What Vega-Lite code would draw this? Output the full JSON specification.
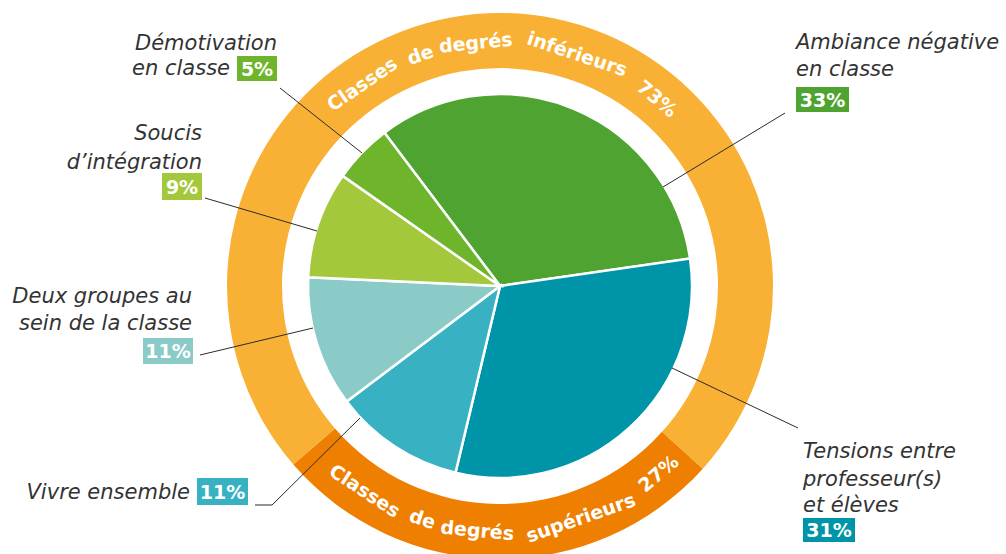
{
  "$schema": "https://vega.github.io/schema/vega-lite/v6.json",
  "width": 1000,
  "height": 540,
  "autosize": "none",
  "padding": {"left": 0, "top": 16, "right": 6, "bottom": 0},
  "background": "white",
  "config": {"view": {"stroke": null}},
  "datasets": {
    "slices": [
      {"cat": "Ambiance négative en classe", "pct": 33, "k": 1},
      {"cat": "Tensions entre professeur(s) et élèves", "pct": 31, "k": 2},
      {"cat": "Vivre ensemble", "pct": 11, "k": 3},
      {"cat": "Deux groupes au sein de la classe", "pct": 11, "k": 4},
      {"cat": "Soucis d'intégration", "pct": 9, "k": 5},
      {"cat": "Démotivation en classe", "pct": 5, "k": 6}
    ],
    "ring": [
      {"grp": "Classes de degrés supérieurs", "pct": 27, "k": 1},
      {"grp": "Classes de degrés inférieurs", "pct": 73, "k": 2}
    ],
    "ringwords": [
      {"side": "top", "word": "Classes", "deg": -34.3},
      {"side": "top", "word": "de", "deg": -19.0},
      {"side": "top", "word": "degrés", "deg": -5.7},
      {"side": "top", "word": "inférieurs", "deg": 18.4},
      {"side": "top", "word": "73%", "deg": 40.0},
      {"side": "bottom", "word": "Classes", "deg": 213.4},
      {"side": "bottom", "word": "de", "deg": 198.4},
      {"side": "bottom", "word": "degrés", "deg": 185.3},
      {"side": "bottom", "word": "supérieurs", "deg": 160.8},
      {"side": "bottom", "word": "27%", "deg": 139.8}
    ],
    "leaders": [
      {"cat": "Démotivation en classe", "seq": 1, "x": -220, "y": 198},
      {"cat": "Démotivation en classe", "seq": 2, "x": -138, "y": 133},
      {"cat": "Soucis d'intégration", "seq": 1, "x": -295, "y": 88},
      {"cat": "Soucis d'intégration", "seq": 2, "x": -183, "y": 55},
      {"cat": "Deux groupes au sein de la classe", "seq": 1, "x": -300, "y": -69},
      {"cat": "Deux groupes au sein de la classe", "seq": 2, "x": -187, "y": -42},
      {"cat": "Vivre ensemble", "seq": 1, "x": -245, "y": -219},
      {"cat": "Vivre ensemble", "seq": 2, "x": -228, "y": -219},
      {"cat": "Vivre ensemble", "seq": 3, "x": -140, "y": -132},
      {"cat": "Ambiance négative en classe", "seq": 1, "x": 285, "y": 173},
      {"cat": "Ambiance négative en classe", "seq": 2, "x": 163, "y": 99},
      {"cat": "Tensions entre professeur(s) et élèves", "seq": 1, "x": 298, "y": -142},
      {"cat": "Tensions entre professeur(s) et élèves", "seq": 2, "x": 172, "y": -82}
    ],
    "lines": [
      {"side": "right", "line": "Démotivation", "x": -223, "y": 236},
      {"side": "right", "line": "en classe", "x": -270, "y": 211},
      {"side": "right", "line": "Soucis", "x": -298, "y": 146},
      {"side": "right", "line": "d’intégration", "x": -298, "y": 117},
      {"side": "right", "line": "Deux groupes au", "x": -308, "y": -17},
      {"side": "right", "line": "sein de la classe", "x": -308, "y": -44},
      {"side": "right", "line": "Vivre ensemble", "x": -310, "y": -213},
      {"side": "left", "line": "Ambiance négative", "x": 296, "y": 237},
      {"side": "left", "line": "en classe", "x": 296, "y": 210},
      {"side": "left", "line": "Tensions entre", "x": 303, "y": -172},
      {"side": "left", "line": "professeur(s)", "x": 303, "y": -200},
      {"side": "left", "line": "et élèves", "x": 303, "y": -226}
    ],
    "boxes": [
      {"cat": "Démotivation en classe", "lab": "5%", "x1": -263, "x2": -223, "y1": 230, "y2": 205, "cx": -243, "cy": 217.5},
      {"cat": "Soucis d'intégration", "lab": "9%", "x1": -338, "x2": -298, "y1": 113, "y2": 86, "cx": -318, "cy": 99.5},
      {"cat": "Deux groupes au sein de la classe", "lab": "11%", "x1": -357, "x2": -307, "y1": -52, "y2": -78, "cx": -332, "cy": -65},
      {"cat": "Vivre ensemble", "lab": "11%", "x1": -303, "x2": -252, "y1": -192, "y2": -219, "cx": -277.5, "cy": -205.5},
      {"cat": "Ambiance négative en classe", "lab": "33%", "x1": 296, "x2": 349, "y1": 199, "y2": 174, "cx": 322.5, "cy": 186.5},
      {"cat": "Tensions entre professeur(s) et élèves", "lab": "31%", "x1": 303, "x2": 355, "y1": -232, "y2": -256, "cx": 329, "cy": -244}
    ]
  },
  "layer": [
    {
      "data": {"name": "ring"},
      "mark": {"type": "arc", "outerRadius": 273, "innerRadius": 218},
      "encoding": {
        "theta": {"field": "pct", "type": "quantitative", "stack": true, "scale": {"domain": [0, 100], "range": [2.3038, 8.587]}},
        "color": {"field": "grp", "type": "nominal", "legend": null, "scale": {"domain": ["Classes de degrés supérieurs", "Classes de degrés inférieurs"], "range": ["#ef7f00", "#f8b134"]}},
        "order": {"field": "k", "type": "quantitative"}
      }
    },
    {
      "data": {"name": "slices"},
      "mark": {"type": "arc", "outerRadius": 192, "stroke": "white", "strokeWidth": 2.5},
      "encoding": {
        "theta": {"field": "pct", "type": "quantitative", "stack": true, "scale": {"domain": [0, 100], "range": [-0.6458, 5.6374]}},
        "color": {"field": "cat", "type": "nominal", "legend": null, "scale": {"domain": ["Ambiance négative en classe", "Tensions entre professeur(s) et élèves", "Vivre ensemble", "Deux groupes au sein de la classe", "Soucis d'intégration", "Démotivation en classe"], "range": ["#4ea331", "#0094a8", "#38b2c3", "#8acbc8", "#a3c83b", "#6fb52c"]}},
        "order": {"field": "k", "type": "quantitative"}
      }
    },
    {
      "data": {"name": "ringwords"},
      "transform": [{"filter": {"field": "side", "equal": "top"}}],
      "mark": {"type": "text", "radius": 244, "font": "DejaVu Sans", "fontWeight": "bold", "fontSize": 19, "fill": "white", "align": "center", "baseline": "middle"},
      "encoding": {
        "text": {"field": "word"},
        "theta": {"field": "deg", "type": "quantitative", "stack": null, "scale": {"domain": [0, 360], "range": [0, 6.283185], "nice": false, "zero": false}},
        "angle": {"field": "deg", "type": "quantitative", "scale": {"domain": [0, 360], "range": [0, 360], "nice": false, "zero": false}}
      }
    },
    {
      "data": {"name": "ringwords"},
      "transform": [{"filter": {"field": "side", "equal": "bottom"}}],
      "mark": {"type": "text", "radius": 246, "font": "DejaVu Sans", "fontWeight": "bold", "fontSize": 19, "fill": "white", "align": "center", "baseline": "middle"},
      "encoding": {
        "text": {"field": "word"},
        "theta": {"field": "deg", "type": "quantitative", "stack": null, "scale": {"domain": [0, 360], "range": [0, 6.283185], "nice": false, "zero": false}},
        "angle": {"field": "deg", "type": "quantitative", "scale": {"domain": [0, 360], "range": [-180, 180], "nice": false, "zero": false}}
      }
    },
    {
      "data": {"name": "leaders"},
      "mark": {"type": "line", "stroke": "#2b2b2b", "strokeWidth": 1},
      "encoding": {
        "x": {"field": "x", "type": "quantitative", "axis": null, "scale": {"domain": [-500, 500], "nice": false, "zero": false}},
        "y": {"field": "y", "type": "quantitative", "axis": null, "scale": {"domain": [-270, 270], "nice": false, "zero": false}},
        "detail": {"field": "cat"},
        "order": {"field": "seq", "type": "quantitative"}
      }
    },
    {
      "data": {"name": "boxes"},
      "mark": {"type": "rect"},
      "encoding": {
        "x": {"field": "x1", "type": "quantitative", "axis": null, "scale": {"domain": [-500, 500], "nice": false, "zero": false}},
        "x2": {"field": "x2"},
        "y": {"field": "y1", "type": "quantitative", "axis": null, "scale": {"domain": [-270, 270], "nice": false, "zero": false}},
        "y2": {"field": "y2"},
        "color": {"field": "cat", "type": "nominal", "legend": null, "scale": {"domain": ["Ambiance négative en classe", "Tensions entre professeur(s) et élèves", "Vivre ensemble", "Deux groupes au sein de la classe", "Soucis d'intégration", "Démotivation en classe"], "range": ["#4ea331", "#0094a8", "#38b2c3", "#8acbc8", "#a3c83b", "#6fb52c"]}}
      }
    },
    {
      "data": {"name": "boxes"},
      "mark": {"type": "text", "font": "DejaVu Sans", "fontWeight": "bold", "fontSize": 19, "fill": "white", "align": "center", "baseline": "middle", "dy": 1},
      "encoding": {
        "x": {"field": "cx", "type": "quantitative", "axis": null, "scale": {"domain": [-500, 500], "nice": false, "zero": false}},
        "y": {"field": "cy", "type": "quantitative", "axis": null, "scale": {"domain": [-270, 270], "nice": false, "zero": false}},
        "text": {"field": "lab"}
      }
    },
    {
      "data": {"name": "lines"},
      "transform": [{"filter": {"field": "side", "equal": "right"}}],
      "mark": {"type": "text", "font": "DejaVu Sans", "fontStyle": "italic", "fontWeight": 200, "fontSize": 21, "fill": "#333333", "align": "right", "baseline": "alphabetic"},
      "encoding": {
        "x": {"field": "x", "type": "quantitative", "axis": null, "scale": {"domain": [-500, 500], "nice": false, "zero": false}},
        "y": {"field": "y", "type": "quantitative", "axis": null, "scale": {"domain": [-270, 270], "nice": false, "zero": false}},
        "text": {"field": "line"}
      }
    },
    {
      "data": {"name": "lines"},
      "transform": [{"filter": {"field": "side", "equal": "left"}}],
      "mark": {"type": "text", "font": "DejaVu Sans", "fontStyle": "italic", "fontWeight": 200, "fontSize": 21, "fill": "#333333", "align": "left", "baseline": "alphabetic"},
      "encoding": {
        "x": {"field": "x", "type": "quantitative", "axis": null, "scale": {"domain": [-500, 500], "nice": false, "zero": false}},
        "y": {"field": "y", "type": "quantitative", "axis": null, "scale": {"domain": [-270, 270], "nice": false, "zero": false}},
        "text": {"field": "line"}
      }
    }
  ],
  "resolve": {"scale": {"theta": "independent", "color": "independent", "angle": "independent"}}
}
